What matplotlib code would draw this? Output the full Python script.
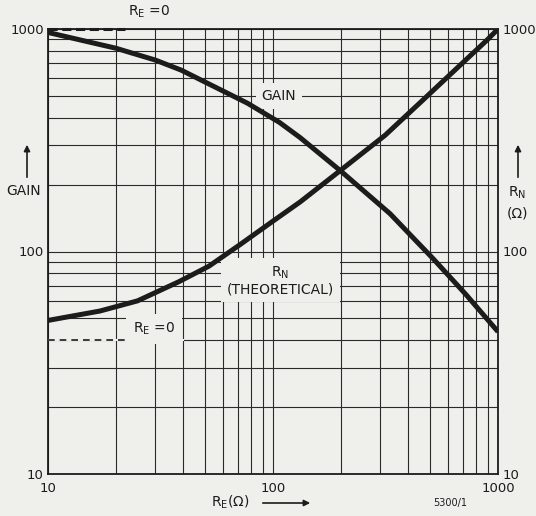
import matplotlib.pyplot as plt
from matplotlib.ticker import FixedLocator, LogLocator, NullFormatter

# Values (R_E in ohm)
re_gain = [10, 15, 20, 30, 39, 54, 77, 107, 132, 200, 331, 514, 721, 1000]
gain = [965, 877, 820, 725, 654, 555, 464, 380, 325, 230, 148, 93, 64, 43.6]

re_rn = [10, 17, 25, 38, 52, 71, 100, 132, 200, 315, 450, 650, 894, 1000]
rn = [49, 54, 60, 73, 86, 107, 137, 167, 232, 333, 466, 660, 892, 1000]

gain_re0 = 1000   # gain at R_E = 0
rn_re0 = 40       # R_N at R_E = 0

tick_vals = [10, 100, 1000]
tick_labels = ['10', '100', '1000']

bg = '#efefeb'
ink = '#1c1c1c'

fig = plt.figure(figsize=(5.36, 5.16), dpi=100, facecolor=bg)
ax = fig.add_axes([48 / 536, 42 / 516, 450 / 536, 445 / 516], facecolor=bg)
ax.set_xscale('log')
ax.set_yscale('log')
ax.set_xlim(10, 1000)
ax.set_ylim(10, 1000)

ax.xaxis.set_major_locator(FixedLocator(tick_vals))
ax.yaxis.set_major_locator(FixedLocator(tick_vals))
ax.xaxis.set_minor_locator(LogLocator(base=10, subs=range(2, 10)))
ax.yaxis.set_minor_locator(LogLocator(base=10, subs=range(2, 10)))
ax.xaxis.set_minor_formatter(NullFormatter())
ax.yaxis.set_minor_formatter(NullFormatter())
ax.set_xticklabels(tick_labels)
ax.set_yticklabels(tick_labels)
ax.tick_params(which='both', length=0, labelsize=9.5, colors=ink)
ax.tick_params(axis='y', labelleft=True, labelright=True, pad=3)
ax.tick_params(axis='x', pad=6)
ax.grid(which='both', color='#2a2a2a', linewidth=0.8)
for s in ax.spines.values():
    s.set_linewidth(1.3)
    s.set_color(ink)

# curves sit above the label boxes, which only blank out the grid
ax.plot(re_gain, gain, color=ink, linewidth=3.6, solid_capstyle='butt',
        solid_joinstyle='round', zorder=7)
ax.plot(re_rn, rn, color=ink, linewidth=3.6, solid_capstyle='butt',
        solid_joinstyle='round', zorder=7)

# R_E = 0 reference levels
ax.plot([10, 22], [gain_re0, gain_re0], color=ink, linewidth=2.2,
        linestyle=(0, (3, 1.5)), clip_on=False, zorder=5)
ax.plot([10, 40], [rn_re0, rn_re0], color=bg, linewidth=1.5, zorder=3)
ax.plot([10, 22], [rn_re0, rn_re0], color=ink, linewidth=1.2,
        linestyle=(0, (4, 3)), zorder=5)

ax.text(106, 500, 'GAIN', fontsize=10, ha='center', va='center',
        color=ink, bbox=dict(facecolor=bg, edgecolor='none', pad=4), zorder=6)
ax.text(108, 74, 'R$_\\mathregular{N}$\n(THEORETICAL)', fontsize=10,
        ha='center', va='center', color=ink, linespacing=1.1,
        bbox=dict(facecolor=bg, edgecolor='none', pad=4), zorder=6)
ax.text(29.5, 45, 'R$_\\mathregular{E}$ =0', fontsize=10, ha='center',
        va='center', color=ink,
        bbox=dict(facecolor=bg, edgecolor='none', pad=5), zorder=6)
ax.text(28, 1190, 'R$_\\mathregular{E}$ =0', fontsize=10, ha='center',
        va='center', color=ink, clip_on=False)

# axis captions with arrows
ax.annotate('', xy=(27 / 536, 1 - 142 / 516), xytext=(27 / 536, 1 - 180 / 516),
            xycoords='figure fraction',
            arrowprops=dict(arrowstyle='-|>', color=ink, lw=1.2,
                            mutation_scale=9))
fig.text(24 / 536, 1 - 191 / 516, 'GAIN', fontsize=10, ha='center',
         va='center', color=ink)
ax.annotate('', xy=(518 / 536, 1 - 142 / 516), xytext=(518 / 536, 1 - 180 / 516),
            xycoords='figure fraction',
            arrowprops=dict(arrowstyle='-|>', color=ink, lw=1.2,
                            mutation_scale=9))
fig.text(517 / 536, 1 - 193 / 516, 'R$_\\mathregular{N}$', fontsize=10,
         ha='center', va='center', color=ink)
fig.text(517 / 536, 1 - 213 / 516, '(Ω)', fontsize=10, ha='center',
         va='center', color=ink)

fig.text(230 / 536, 1 - 502 / 516, 'R$_\\mathregular{E}$(Ω)', fontsize=10,
         ha='center', va='center', color=ink)
ax.annotate('', xy=(313 / 536, 1 - 503 / 516), xytext=(260 / 536, 1 - 503 / 516),
            xycoords='figure fraction',
            arrowprops=dict(arrowstyle='-|>', color=ink, lw=1.2,
                            mutation_scale=9))
fig.text(450 / 536, 1 - 503 / 516, '5300/1', fontsize=7, ha='center',
         va='center', color=ink)

fig.savefig('out.png', dpi=100, facecolor=bg)
